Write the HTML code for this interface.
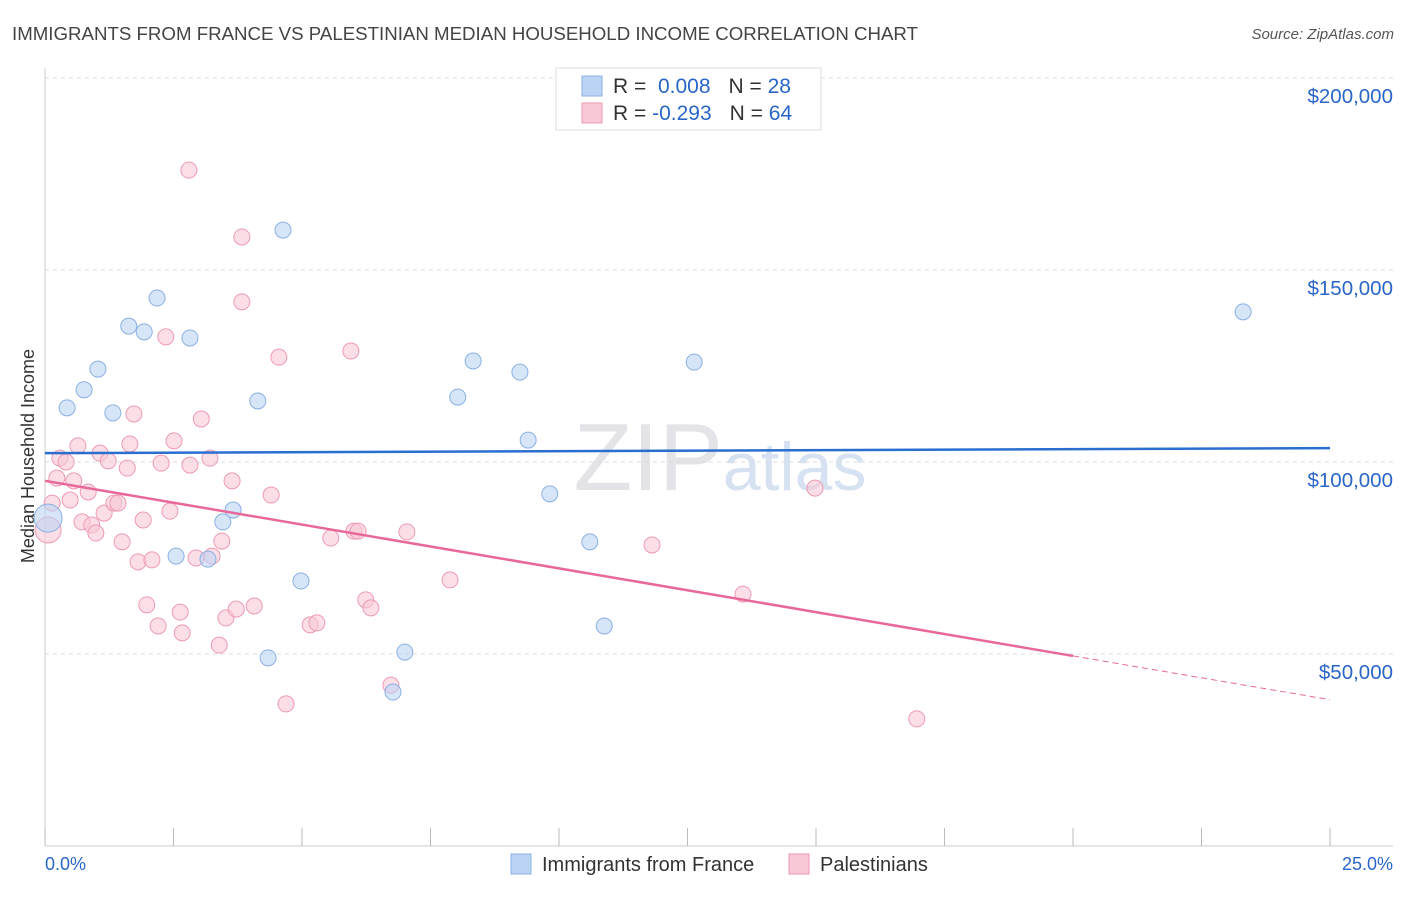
<!DOCTYPE html>
<html><head><meta charset="utf-8"><style>
body{margin:0;background:#fff;font-family:"Liberation Sans",sans-serif}
svg text{font-family:"Liberation Sans",sans-serif}
</style></head><body>
<svg width="1406" height="892" id="c">
<text x="12" y="40" font-size="18" fill="#444" textLength="906" lengthAdjust="spacingAndGlyphs">IMMIGRANTS FROM FRANCE VS PALESTINIAN MEDIAN HOUSEHOLD INCOME CORRELATION CHART</text>
<text x="1394" y="39" font-size="15" fill="#555" text-anchor="end" font-style="italic">Source: ZipAtlas.com</text>
<text x="34" y="456" font-size="18" fill="#333" text-anchor="middle" transform="rotate(-90 34 456)">Median Household Income</text>
<text x="720" y="490" font-size="96" fill="#e4e4e8" text-anchor="middle" font-family="Liberation Serif">ZIP<tspan fill="#d6e2f2" font-family="Liberation Sans" font-size="68">atlas</tspan></text>
<g id="grid"></g><g id="pts"></g><g id="lines"></g>
<g>
<rect x="556" y="68" width="265" height="62" fill="#fff" stroke="#ddd"/>
<rect x="582" y="76" width="20" height="20" fill="#bcd4f4" stroke="#8ab0e4"/>
<rect x="582" y="103" width="20" height="20" fill="#f9c8d6" stroke="#ee9ab4"/>
<text x="613" y="93" font-size="21" fill="#333">R = <tspan fill="#2a66c8">&#160;0.008</tspan><tspan dx="18">N = </tspan><tspan fill="#2a66c8">28</tspan></text>
<text x="613" y="120" font-size="21" fill="#333">R = <tspan fill="#2a66c8">-0.293</tspan><tspan dx="18">N = </tspan><tspan fill="#2a66c8">64</tspan></text>
</g>
<g>
<rect x="511" y="854" width="20" height="20" fill="#bcd4f4" stroke="#8ab0e4"/>
<text x="542" y="871" font-size="20" fill="#333">Immigrants from France</text>
<rect x="789" y="854" width="20" height="20" fill="#f9c8d6" stroke="#ee9ab4"/>
<text x="820" y="871" font-size="20" fill="#333">Palestinians</text>
</g>
<text x="45" y="870" font-size="18" fill="#2a66c8">0.0%</text>
<text x="1393" y="870" font-size="18" fill="#2a66c8" text-anchor="end">25.0%</text>
</svg>
<script>
const yTicks=[50000,100000,150000,200000];
const yTickLabels=["$50,000","$100,000","$150,000","$200,000"];
const franceX=[0.06,0.43,0.76,1.03,1.32,1.63,1.93,2.18,2.55,2.82,3.17,3.46,3.66,4.14,4.34,4.63,4.98,6.77,7.00,8.03,8.33,9.24,9.40,9.82,10.60,10.88,12.63,23.31];
const franceY=[85.4,114.1,118.8,124.2,112.8,135.4,133.9,142.7,75.5,132.3,74.7,84.4,87.5,115.9,49.0,160.4,69.0,40.1,50.5,116.9,126.3,123.4,105.7,91.7,79.2,57.3,126.0,139.1];
const palX=[0.06,0.14,0.23,0.29,0.41,0.49,0.56,0.64,0.72,0.84,0.91,0.99,1.07,1.15,1.23,1.34,1.42,1.50,1.60,1.65,1.73,1.81,1.91,1.98,2.08,2.20,2.26,2.35,2.43,2.51,2.63,2.67,2.80,2.82,2.94,3.04,3.21,3.25,3.39,3.44,3.52,3.64,3.72,3.83,3.83,4.07,4.40,4.55,4.69,5.16,5.29,5.56,5.95,6.01,6.09,6.24,6.34,6.73,7.04,7.88,11.81,13.58,14.98,16.96];
const palY=[82.3,89.3,95.8,101.0,100.0,90.1,95.1,104.2,84.4,92.2,83.6,81.5,102.3,86.7,100.3,89.3,89.3,79.2,98.4,104.7,112.5,74.0,84.9,62.8,74.5,57.3,99.7,132.6,87.2,105.5,60.9,55.5,176.0,99.2,75.0,111.2,101.0,75.5,52.3,79.4,59.4,95.1,61.7,158.6,141.7,62.5,91.4,127.3,37.0,57.6,58.1,80.2,128.9,82.0,82.0,64.1,62.0,41.9,81.8,69.3,78.4,65.6,93.2,33.1];
const franceTrend=[102.3,103.6];
const palTrend=[95.1,49.5,38.1];
const X=p=>45+p*51.4, Y=k=>846-k*3.84;
const NS="http://www.w3.org/2000/svg";
function mk(t,a,parent){const e=document.createElementNS(NS,t);for(const k in a)e.setAttribute(k,a[k]);document.getElementById(parent).appendChild(e);return e;}
yTicks.forEach((v,i)=>{
 const g=mk('line',{x1:45,x2:1393,y1:Y(v/1000),y2:Y(v/1000),stroke:'#ddd','stroke-dasharray':'4 4'},'grid');
 
 
 const t=mk('text',{x:1393,y:Y(v/1000)+25,'font-size':20.5,fill:'#2a66c8','text-anchor':'end'},'grid');t.textContent=yTickLabels[i];
 
 
});
mk('line',{x1:45,x2:45,y1:68,y2:846,stroke:'#ccc'},'grid');
mk('line',{x1:45,x2:1393,y1:846,y2:846,stroke:'#ccc'},'grid');
for(let i=0;i<=10;i++){const l=mk('line',{x1:X(i*2.5),x2:X(i*2.5),y1:828,y2:846,stroke:'#bbb'},'grid');
 
 }
palX.forEach((x,i)=>{const c=mk('circle',{cx:X(x),cy:Y(palY[i]),r:i==0?13:8,fill:'#f9c8d6','fill-opacity':0.6,stroke:'#ee9ab4','stroke-width':1},'pts');
 
 });
franceX.forEach((x,i)=>{const c=mk('circle',{cx:X(x),cy:Y(franceY[i]),r:i==0?14:8,fill:'#bcd4f4','fill-opacity':0.6,stroke:'#8ab0e4','stroke-width':1},'pts');
 
 });
let l=mk('line',{x1:X(0),x2:X(25),y1:Y(franceTrend[0]),y2:Y(franceTrend[1]),stroke:'#2a6fd0','stroke-width':2.5},'lines');


l=mk('line',{x1:X(0),x2:X(20),y1:Y(palTrend[0]),y2:Y(palTrend[1]),stroke:'#e8689a','stroke-width':2.5},'lines');


l=mk('line',{x1:X(20),x2:X(25),y1:Y(palTrend[1]),y2:Y(palTrend[2]),stroke:'#e8689a','stroke-width':1,'stroke-dasharray':'6 4'},'lines');


</script>
</body></html>
